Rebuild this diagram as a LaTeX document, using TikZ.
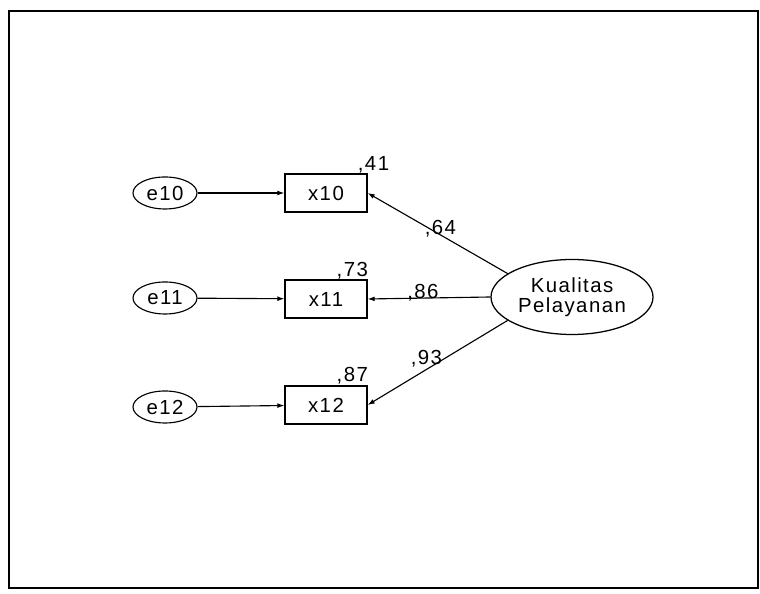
\documentclass[tikz,border=0pt]{standalone}
\usepackage{fontspec}
\setmainfont{Liberation Sans}[LetterSpace=7]
\usepackage{tikz}
\usetikzlibrary{positioning, arrows.meta, shapes.geometric, calc}

\begin{document}
\begin{tikzpicture}[
  errvar/.style={draw, ellipse, line width=0.8pt, minimum width=1.6cm,
    minimum height=0.8cm, inner sep=0pt, font=\fontsize{14.5}{14.5}\selectfont},
  obsvar/.style={draw, rectangle, line width=0.9pt, minimum width=2.05cm,
    minimum height=0.95cm, inner sep=0pt, font=\fontsize{14.5}{14.5}\selectfont},
  latent/.style={draw, ellipse, line width=0.9pt, minimum width=4.05cm,
    minimum height=1.875cm, inner sep=0pt, align=center,
    font=\fontsize{14.5}{14.5}\selectfont},
  flow/.style={-{Latex[length=5pt, width=3.5pt]}, line width=0.8pt},
  coef/.style={font=\fontsize{14.5}{14.5}\selectfont, inner sep=0pt},
]

% ── Canvas and frame ─────────────────────────────────────
\useasboundingbox (0, 0) rectangle (19, 14.85);
\draw[line width=1.3pt] (0.225, 0.15) rectangle (18.95, 14.575);

% ── Error terms ──────────────────────────────────────────
\node[errvar] (e10) at (4.125, 10.025) {e10};
\node[errvar] (e11) at (4.125, 7.4) {e11};
\node[errvar] (e12) at (4.125, 4.675) {e12};

% ── Indicators ───────────────────────────────────────────
\node[obsvar] (x10) at (8.15, 10.025) {x10};
\node[obsvar] (x11) at (8.15, 7.375) {x11};
\node[obsvar] (x12) at (8.15, 4.725) {x12};

% Squared multiple correlations
\node[coef, anchor=base west, xshift=-0.25cm, yshift=0.075cm]
  (r10) at (x10.north east) {,41};
\node[coef, anchor=base west, xshift=-0.78cm, yshift=0.06cm]
  (r11) at (x11.north east) {,73};
\node[coef, anchor=base west, xshift=-0.78cm, yshift=0.1cm]
  (r12) at (x12.north east) {,87};

% ── Latent construct ─────────────────────────────────────
\node[latent] (kp) at (14.3, 7.425) {Kualitas\\Pelayanan};

% ── Paths ────────────────────────────────────────────────
\draw[flow] (e10) -- (x10);
\draw[flow] (e11) -- (x11);
\draw[flow] (e12) -- (x12);

\draw[flow] (kp.160) -- node[coef, pos=0.48, anchor=base] (l10) {,64}
  (x10.east);
\draw[flow] (kp.west) -- node[coef, pos=0.55, anchor=base] (l11) {,86}
  (x11.east);
\draw[flow] (kp.200) -- node[coef, pos=0.58, anchor=base, yshift=0.12cm]
  (l12) {,93} (x12.east);

\end{tikzpicture}
\end{document}
